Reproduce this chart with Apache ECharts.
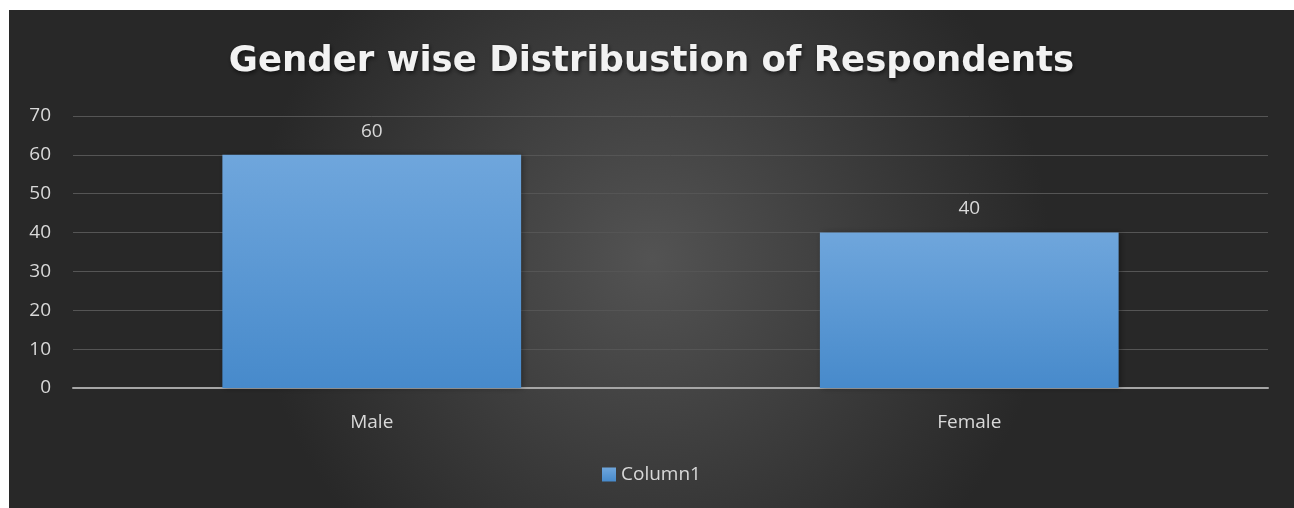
<!DOCTYPE html>
<html><head><meta charset="utf-8">
<script src="https://cdn.jsdelivr.net/npm/echarts@6/dist/echarts.min.js"></script>
<style>html,body{margin:0;padding:0;background:#fff}#c{position:absolute;left:9px;top:10px;width:1285px;height:498px}</style>
</head><body><div id="c"></div>
<script>
const categories = ['Male', 'Female'];
const values = [60, 40];
const seriesName = 'Column1';
const titleText = 'Gender wise Distribustion of Respondents';

const chart = echarts.init(document.getElementById('c'));
chart.setOption({
  backgroundColor: {
    type: 'radial', x: 0.5, y: 0.5, r: 0.8,
    colorStops: [{offset: 0, color: '#535353'}, {offset: 1, color: '#282828'}]
  },
  title: {
    text: titleText, left: 'center', top: 29,
    textStyle: {
      color: '#f2f2f2', fontSize: 35.5, fontWeight: 'bold', fontFamily: 'DejaVu Sans',
      textShadowColor: 'rgba(0,0,0,0.6)', textShadowBlur: 4, textShadowOffsetX: 1, textShadowOffsetY: 2
    }
  },
  legend: {
    data: [seriesName], bottom: 19, left: 'center', itemWidth: 14, itemHeight: 14, itemGap: 4,
    icon: 'rect',
    textStyle: {color: '#d9d9d9', fontSize: 19, fontFamily: 'Open Sans'}
  },
  grid: {left: 64, right: 26, top: 106, bottom: 120, containLabel: false},
  xAxis: {
    type: 'category', data: categories,
    axisLine: {lineStyle: {color: '#a6a6a6', width: 2}},
    axisTick: {show: false},
    axisLabel: {color: '#d9d9d9', fontSize: 19, fontFamily: 'Open Sans', margin: 25}
  },
  yAxis: {
    type: 'value', min: 0, max: 70, interval: 10,
    axisLine: {show: false}, axisTick: {show: false},
    splitLine: {lineStyle: {color: '#555555', width: 1}},
    axisLabel: {color: '#d9d9d9', fontSize: 19, fontFamily: 'Open Sans', margin: 22}
  },
  series: [{
    name: seriesName, type: 'bar', data: values, barWidth: '50%',
    itemStyle: {
      color: {type: 'linear', x: 0, y: 0, x2: 0, y2: 1,
        colorStops: [{offset: 0, color: '#6fa6dc'}, {offset: 1, color: '#478acb'}]},
      shadowColor: 'rgba(0,0,0,0.35)', shadowBlur: 6, shadowOffsetX: 2, shadowOffsetY: 0
    },
    label: {show: true, position: 'top', distance: 14, color: '#d9d9d9', fontSize: 19, fontFamily: 'Open Sans'}
  }]
});
</script></body></html>
